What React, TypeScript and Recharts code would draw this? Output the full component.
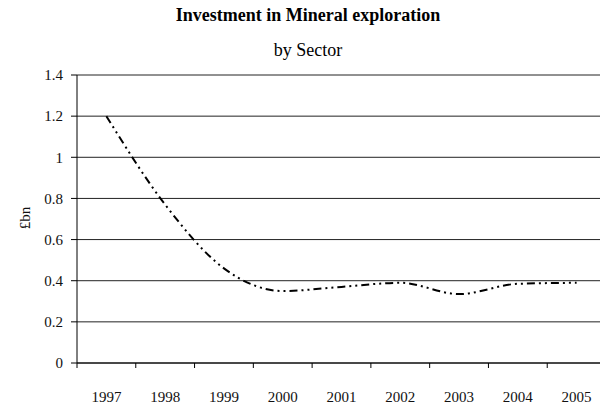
import React from 'react';
import { LineChart, Line, XAxis, YAxis, CartesianGrid } from 'recharts';

const years = ['1997', '1998', '1999', '2000', '2001', '2002', '2003', '2004', '2005'];
const investment = [1.2, 0.77, 0.46, 0.35, 0.37, 0.39, 0.335, 0.385, 0.39];
const yTicks = [0, 0.2, 0.4, 0.6, 0.8, 1, 1.2, 1.4];

const data = years.map((y, i) => ({ pos: i + 0.5, year: y, value: investment[i] }));
const xTicks: number[] = [];
for (let i = 0; i <= years.length; i++) {
  xTicks.push(i);
  if (i < years.length) xTicks.push(i + 0.5);
}

const FONT = '"Liberation Serif", "Times New Roman", serif';

const XTick = (props: any) => {
  const { x, y, payload } = props;
  const v = payload.value as number;
  if (Number.isInteger(v)) {
    return <line x1={x} x2={x} y1={y} y2={y + 5} stroke="#000" strokeWidth={1} />;
  }
  const label = years[Math.floor(v)];
  return (
    <text x={x} y={y + 34} textAnchor="middle" dominantBaseline="central" fontFamily={FONT} fontSize={15} fill="#111">
      {label}
    </text>
  );
};

export default function App() {
  return (
    <div style={{ position: 'relative', width: 600, height: 397, fontFamily: FONT }}>
      <div style={{ position: 'absolute', top: -2, left: 0, width: 600, textAlign: 'center', fontSize: 18, fontWeight: 'bold', lineHeight: '18px', color: '#000' }}>
        Investment in Mineral exploration
      </div>
      <div style={{ position: 'absolute', top: 33, left: 0, width: 600, textAlign: 'center', fontSize: 18, lineHeight: '18px', color: '#000' }}>
        by Sector
      </div>
      <div style={{ position: 'absolute', left: 17, top: 210, transform: 'translate(-50%, -50%) rotate(-90deg)', fontSize: 15, lineHeight: '15px', whiteSpace: 'nowrap', color: '#111' }}>
        £bn
      </div>
      <LineChart width={600} height={397} data={data} margin={{ top: 67, right: 2, bottom: 0, left: 0 }}>
        <CartesianGrid horizontal={true} vertical={false} stroke="#222" strokeWidth={1} />
        <XAxis
          dataKey="pos"
          type="number"
          domain={[0, 9]}
          ticks={xTicks}
          interval={0}
          tick={<XTick />}
          tickLine={false}
          tickSize={0}
          tickMargin={0}
          height={42}
          axisLine={{ stroke: '#000', strokeWidth: 1 }}
        />
        <YAxis
          domain={[0, 1.4]}
          ticks={yTicks}
          interval={0}
          width={69}
          tickSize={6}
          tickMargin={8}
          tickLine={{ stroke: '#000' }}
          axisLine={{ stroke: '#000', strokeWidth: 1 }}
          tick={{ fontFamily: FONT, fontSize: 15, fill: '#111' }}
        />
        <YAxis
          yAxisId="right"
          orientation="right"
          width={0}
          domain={[0, 1.4]}
          tick={false}
          tickLine={false}
          axisLine={{ stroke: '#999', strokeWidth: 1 }}
        />
        <Line
          type="monotone"
          dataKey="value"
          stroke="#000"
          strokeWidth={2}
          strokeDasharray="8 4 2 4 2 4"
          dot={false}
          activeDot={false}
          isAnimationActive={false}
        />
      </LineChart>
    </div>
  );
}
